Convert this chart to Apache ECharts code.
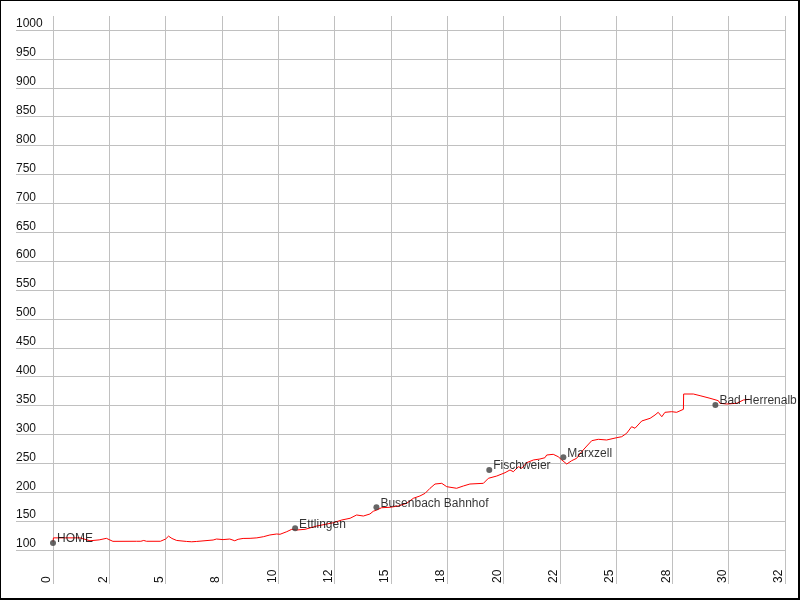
<!DOCTYPE html>
<html>
<head>
<meta charset="utf-8">
<script src="https://cdn.jsdelivr.net/npm/echarts@6/dist/echarts.min.js"></script>
<style>
html,body{margin:0;padding:0;background:#fff;}
#frame{position:absolute;left:0;top:0;width:800px;height:600px;box-sizing:border-box;border-left:1px solid #000;border-top:1px solid #000;border-right:2px solid #000;border-bottom:2px solid #000;}
#chart{position:absolute;left:0;top:0;width:800px;height:600px;}
</style>
</head>
<body>
<div id="chart"></div>
<div id="frame"></div>
<script>
// Distance (km) along the route
const distKm = [0, 0.02, 1.2, 1.64, 2.05, 2.37, 2.66, 3.7, 3.77, 3.9, 4.03, 4.15, 4.77, 5.0, 5.13, 5.28, 5.49, 5.93, 6.16, 6.38, 7.11, 7.26, 7.55, 7.85, 8.07, 8.22, 8.44, 8.75, 9.05, 9.34, 9.63, 9.93, 10.08, 10.38, 10.6, 10.82, 11.19, 11.71, 12.45, 12.82, 13.19, 13.48, 13.78, 14.07, 14.22, 14.37, 14.59, 14.96, 15.33, 15.7, 16.0, 16.29, 16.52, 16.74, 16.96, 17.26, 17.48, 17.92, 18.22, 18.51, 19.11, 19.33, 19.7, 20.07, 20.29, 20.44, 20.66, 20.81, 21.03, 21.33, 21.62, 21.84, 21.92, 22.21, 22.43, 22.59, 22.81, 23.03, 23.25, 23.47, 23.7, 23.92, 24.21, 24.58, 25.03, 25.25, 25.47, 25.69, 25.84, 26.14, 26.51, 26.73, 26.87, 27.03, 27.17, 27.47, 27.69, 27.99, 28.0, 28.43, 28.73, 29.17, 29.54, 29.61, 29.91, 30.36, 30.65, 30.91];
// Elevation (m)
const elevM = [114, 121, 121, 116, 117.5, 120.2, 115, 115.1, 116.5, 115.1, 116.5, 115.1, 115.1, 119, 124, 120, 116.5, 114.8, 114.2, 114.8, 117.3, 119, 118, 119, 116, 118.5, 120, 120.2, 121, 123, 126, 127.7, 127.2, 131.7, 135.8, 134.6, 135.8, 141.5, 147.2, 151.9, 154.9, 160.6, 158.8, 162.3, 167, 169.2, 173.2, 173.9, 176.2, 180.8, 189.5, 193.5, 198.1, 206.8, 214.2, 215.4, 209.6, 206.8, 210.8, 214.2, 215.4, 224.1, 228, 233.8, 238.5, 235.5, 244.2, 241.4, 251.1, 255.8, 257.5, 259.7, 264.4, 265.6, 261.5, 255.8, 248.8, 254.6, 258.7, 270.1, 280, 289.2, 291.6, 290.4, 294.4, 296.1, 302, 313.4, 310.7, 323.3, 327.9, 333.7, 338.3, 330.7, 338.3, 339.4, 338.3, 343.5, 370, 370, 367.1, 362.6, 358.4, 353.9, 352.7, 353.9, 359.6, 360.8];
// Waypoints
const placeNames = ["HOME", "Ettlingen", "Busenbach Bahnhof", "Fischweier", "Marxzell", "Bad Herrenalb"];
const placeKm = [0, 10.75, 14.36, 19.37, 22.66, 29.41];
const placeElev = [112, 137.6, 173.9, 238.5, 260.4, 351];
// Tick labels (x axis every 2.5 km)
const xTickLabels = ["0", "2", "5", "8", "10", "12", "15", "18", "20", "22", "25", "28", "30", "32"];

const lineData = distKm.map((d, i) => [d, elevM[i]]);
const placeData = placeNames.map((n, i) => ({ name: n, value: [placeKm[i], placeElev[i]] }));

const grid = '#c0c0c0';
const font = 'Liberation Sans, Arial, sans-serif';
const chart = echarts.init(document.getElementById('chart'), null, { renderer: 'canvas' });
chart.setOption({
  animation: false,
  backgroundColor: '#ffffff',
  grid: { left: 53, right: 15, top: 30, bottom: 50, containLabel: false },
  xAxis: [{
    type: 'value', min: 0, max: 32.5, interval: 2.5, position: 'bottom',
    axisLine: { show: false },
    axisTick: { show: true, length: 34, lineStyle: { color: grid } },
    splitLine: { show: true, lineStyle: { color: grid, width: 1 } },
    axisLabel: {
      rotate: 90, margin: 33, align: 'left', verticalAlign: 'bottom',
      color: '#111', fontSize: 12, fontFamily: font,
      formatter: v => xTickLabels[Math.round(v / 2.5)]
    }
  }, {
    type: 'value', min: 0, max: 32.5, interval: 2.5, position: 'top',
    axisLine: { show: false },
    axisTick: { show: true, length: 14, lineStyle: { color: grid } },
    splitLine: { show: false },
    axisLabel: { show: false }
  }],
  yAxis: {
    type: 'value', min: 100, max: 1000, interval: 50,
    axisLine: { show: false },
    axisTick: { show: true, length: 37, lineStyle: { color: grid } },
    splitLine: { show: true, lineStyle: { color: grid, width: 1 } },
    axisLabel: {
      margin: 37, align: 'left', verticalAlign: 'bottom', lineHeight: 12,
      color: '#111', fontSize: 12, fontFamily: font,
      formatter: v => String(v)
    }
  },
  series: [{
    type: 'line', xAxisIndex: 0, data: lineData, showSymbol: false, symbol: 'none',
    lineStyle: { color: '#ff0000', width: 1 }, z: 3
  }, {
    type: 'scatter', xAxisIndex: 0, data: placeData, symbol: 'circle', symbolSize: 6,
    itemStyle: { color: '#404040' }, z: 4,
    label: {
      show: true, position: 'right', distance: 1, offset: [0, -4],
      formatter: p => p.name, color: '#000', fontSize: 12, fontFamily: font
    }
  }]
});
</script>
</body>
</html>
